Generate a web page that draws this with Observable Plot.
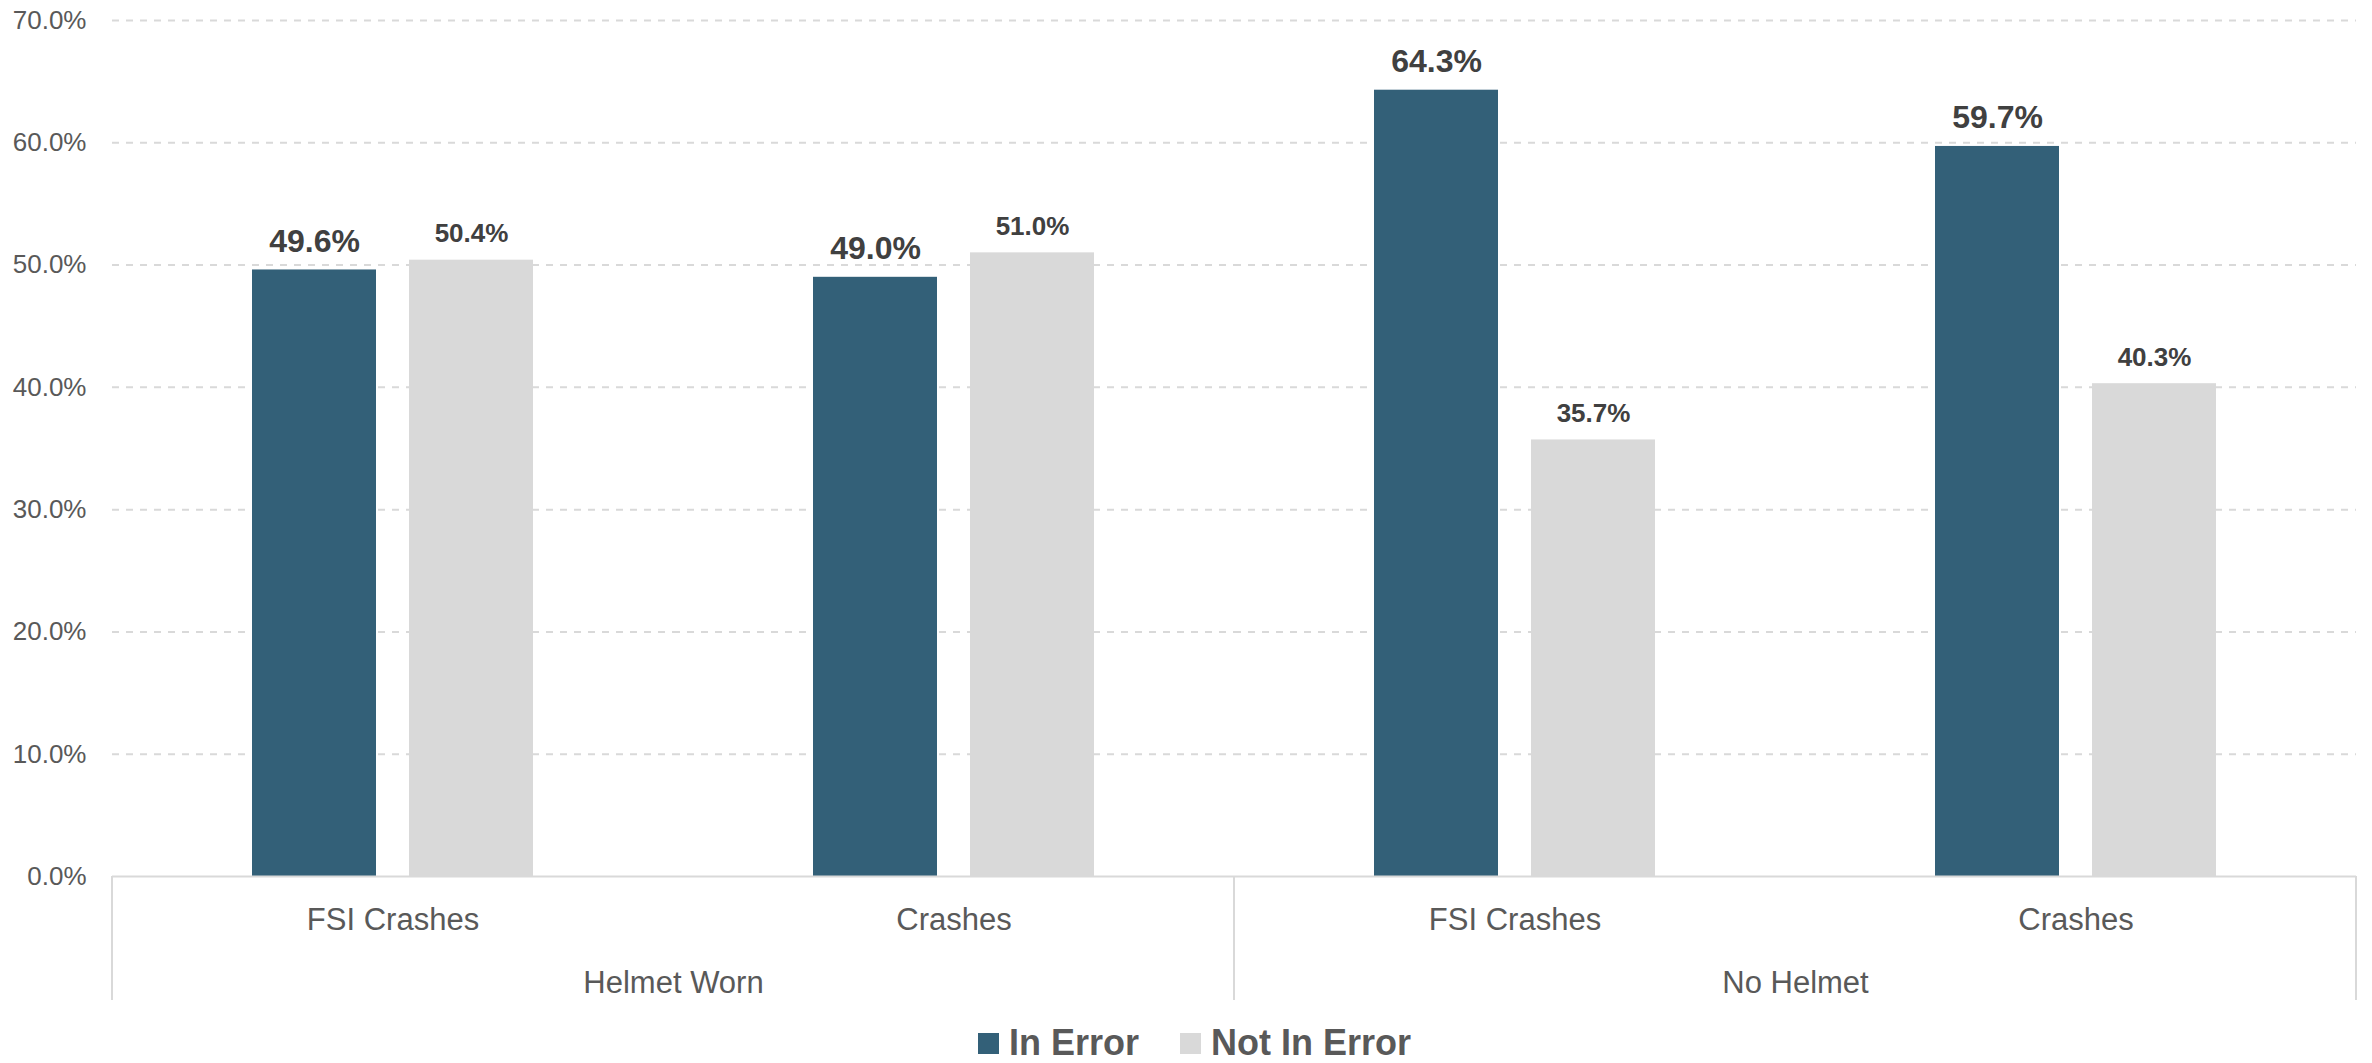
<!DOCTYPE html>
<html>
<head>
<meta charset="utf-8">
<script src="https://cdn.jsdelivr.net/npm/d3@7"></script>
<script src="https://cdn.jsdelivr.net/npm/@observablehq/plot@0.6"></script>
<style>
  html, body { margin: 0; padding: 0; background: #fff; }
  body { width: 2372px; height: 1063px; position: relative; overflow: hidden;
         font-family: Arial, "Liberation Sans", sans-serif; }
  #chart svg { display: block; }
  #legend { position: absolute; left: 978px; top: 1021px; height: 44px;
            display: flex; align-items: center; font-size: 36px; font-weight: bold;
            color: #595959; line-height: 44px; }
  #legend .sw { width: 21px; height: 21px; display: inline-block; }
  #legend .lab { margin-left: 10px; }
  #legend .item + .item { margin-left: 41px; }
  #legend .item { display: flex; align-items: center; }
</style>
</head>
<body>
<div id="chart"></div>
<div id="legend"></div>
<script>
// ---- data ----
const groups = ["Helmet Worn", "Helmet Worn", "No Helmet", "No Helmet"];
const subcategories = ["FSI Crashes", "Crashes", "FSI Crashes", "Crashes"];
const series = ["In Error", "Not In Error"];
const inError = [49.6, 49.0, 64.3, 59.7];
const notInError = [50.4, 51.0, 35.7, 40.3];
const yTicks = [0, 10, 20, 30, 40, 50, 60, 70];
const colors = ["#336078", "#D9D9D9"];

// ---- tables ----
const keys = groups.map((g, i) => g + " / " + subcategories[i]);
const rows = [];
keys.forEach((k, i) => {
  rows.push({key: k, series: series[0], value: inError[i]});
  rows.push({key: k, series: series[1], value: notInError[i]});
});
const facetLabels = keys.map((k, i) => ({key: k, sub: subcategories[i]}));
const groupLabels = [...new Set(groups)].map(g => ({key: keys[groups.indexOf(g)], group: g}));

const W = 2372, H = 1010;
const fmt = d => d.toFixed(1) + "%";

const chart = Plot.plot({
  width: W,
  height: H,
  marginTop: 20,
  marginBottom: 134,
  marginLeft: 111,
  marginRight: 15,
  style: {fontFamily: 'Arial, "Liberation Sans", sans-serif', background: "white", color: "#595959"},
  fx: {domain: keys, padding: 0, axis: null, label: null},
  x: {domain: series, paddingInner: 0.209, paddingOuter: 0.881, axis: null, label: null},
  y: {domain: [0, 70], label: null},
  color: {domain: series, range: colors},
  marks: [
    Plot.ruleY(yTicks.filter(d => d > 0), {stroke: "#D9D9D9", strokeWidth: 2, strokeDasharray: "7,7"}),
    Plot.barY(rows, {fx: "key", x: "series", y: "value", fill: "series"}),
    Plot.ruleY([0], {stroke: "#D9D9D9", strokeWidth: 2}),
    Plot.axisY(yTicks, {tickSize: 0, tickPadding: 26, tickFormat: fmt, fontSize: 26, fill: "#595959", label: null}),
    Plot.text(rows.filter(d => d.series === series[0]), {
      fx: "key", x: "series", y: "value", text: d => fmt(d.value),
      dy: -18, lineAnchor: "bottom", fontSize: 32, fontWeight: "bold", fill: "#404040"
    }),
    Plot.text(rows.filter(d => d.series === series[1]), {
      fx: "key", x: "series", y: "value", text: d => fmt(d.value),
      dy: -18, lineAnchor: "bottom", fontSize: 26, fontWeight: "bold", fill: "#404040"
    }),
    Plot.text(facetLabels, {
      fx: "key", text: "sub", frameAnchor: "bottom", lineAnchor: "bottom",
      dy: 53, fontSize: 31, fill: "#595959"
    }),
    Plot.text(groupLabels, {
      fx: "key", text: "group", frameAnchor: "bottom-right", textAnchor: "middle", lineAnchor: "bottom",
      dy: 116, fontSize: 31, fill: "#595959"
    })
  ]
});
document.getElementById("chart").appendChild(chart);

// group box separators under the axis, positioned from Plot's own fx / y scales
const fxS = chart.scale("fx");
const yS = chart.scale("y");
const y0 = yS.apply(0);
const boxBottom = 1000;
const edges = new Set();
[...new Set(groups)].forEach(g => {
  const ks = keys.filter((k, i) => groups[i] === g);
  edges.add(fxS.apply(ks[0]));
  edges.add(fxS.apply(ks[ks.length - 1]) + fxS.bandwidth);
});
const svg = d3.select(chart);
svg.append("g").selectAll("line").data([...edges]).join("line")
  .attr("x1", d => d).attr("x2", d => d)
  .attr("y1", y0).attr("y2", boxBottom)
  .attr("stroke", "#D9D9D9").attr("stroke-width", 2);

// legend
const legend = d3.select("#legend");
series.forEach((s, i) => {
  const it = legend.append("div").attr("class", "item");
  it.append("span").attr("class", "sw").style("background", colors[i]);
  it.append("span").attr("class", "lab").text(s);
});
</script>
</body>
</html>
